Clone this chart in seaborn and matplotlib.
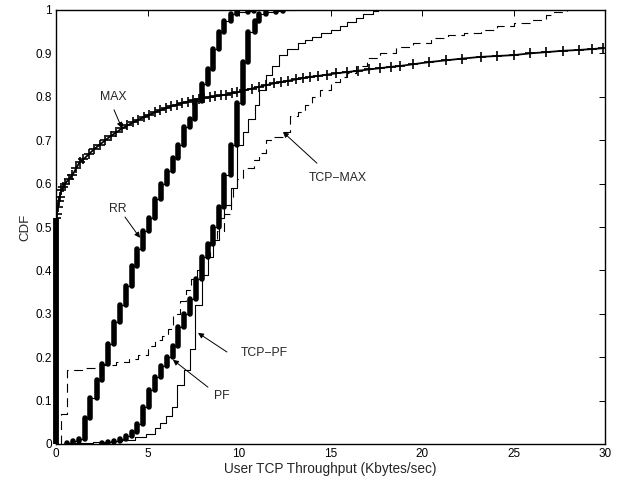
import matplotlib
matplotlib.use("Agg")
import matplotlib.pyplot as plt
import pandas as pd
import seaborn as sns

# ---------------- data ----------------
max_x = [0.0, 0.05, 0.1, 0.15, 0.2, 0.3, 0.4, 0.5, 0.7, 0.9, 1.1, 1.3, 1.5, 1.8, 2.1,
         2.4, 2.7, 3.0, 3.3, 3.6, 3.9, 4.2, 4.5, 4.8, 5.1, 5.4, 5.7, 6.0, 6.3, 6.6,
         6.9, 7.2, 7.5, 7.8, 8.1, 8.4, 8.7, 9.0, 9.3, 9.6, 9.9, 10.3, 10.7, 11.1, 11.5,
         11.9, 12.3, 12.7, 13.1, 13.5, 13.9, 14.3, 14.8, 15.3, 15.9, 16.5, 17.1, 17.7,
         18.3, 18.8, 19.5, 20.4, 21.3, 22.2, 23.2, 24.1, 25.0, 25.9, 26.8, 27.7, 28.6,
         29.3, 29.9]
max_cdf = [0.52, 0.53, 0.545, 0.56, 0.57, 0.585, 0.593, 0.60, 0.61, 0.62, 0.635, 0.65,
           0.656, 0.668, 0.68, 0.69, 0.70, 0.71, 0.718, 0.727, 0.734, 0.741, 0.747,
           0.753, 0.759, 0.764, 0.769, 0.774, 0.778, 0.782, 0.786, 0.789, 0.792, 0.795,
           0.797, 0.799, 0.801, 0.803, 0.805, 0.808, 0.81, 0.815, 0.819, 0.823, 0.827,
           0.831, 0.834, 0.837, 0.84, 0.843, 0.846, 0.848, 0.851, 0.854, 0.857, 0.86,
           0.863, 0.866, 0.869, 0.871, 0.875, 0.88, 0.884, 0.888, 0.892, 0.894, 0.896,
           0.9, 0.903, 0.906, 0.908, 0.91, 0.912]

rr_x = [0.58, 0.93, 1.26, 1.58, 1.86, 2.24, 2.52, 2.84, 3.17, 3.5, 3.83, 4.15, 4.43,
        4.75, 5.08, 5.4, 5.74, 6.07, 6.4, 6.67, 7.0, 7.3, 7.6, 7.98, 8.3, 8.6, 8.9,
        9.2, 9.56, 9.9, 10.5, 10.8]
rr_cdf = [0.003, 0.006, 0.012, 0.06, 0.105, 0.148, 0.185, 0.23, 0.28, 0.32, 0.365,
          0.41, 0.45, 0.49, 0.52, 0.565, 0.60, 0.63, 0.66, 0.69, 0.73, 0.75, 0.79,
          0.83, 0.865, 0.91, 0.95, 0.975, 0.99, 0.995, 0.998, 1.0]

pf_x = [2.5, 2.84, 3.17, 3.5, 3.83, 4.15, 4.43, 4.75, 5.08, 5.4, 5.74, 6.07, 6.4,
        6.67, 7.0, 7.3, 7.65, 8.0, 8.3, 8.6, 8.9, 9.2, 9.56, 9.9, 10.2, 10.5, 10.9,
        11.1, 11.5, 12.0, 12.4, 12.8, 13.1]
pf_cdf = [0.002, 0.004, 0.007, 0.011, 0.018, 0.028, 0.045, 0.085, 0.125, 0.155, 0.18,
          0.20, 0.225, 0.27, 0.30, 0.335, 0.38, 0.43, 0.46, 0.50, 0.545, 0.62, 0.69,
          0.785, 0.88, 0.95, 0.975, 0.99, 0.995, 0.998, 0.999, 0.9995, 1.0]

tcp_pf_x = [0.6, 2.0, 3.0, 3.6, 4.3, 4.9, 5.4, 5.7, 6.0, 6.34, 6.6, 7.0, 7.3, 7.6,
            8.0, 8.3, 8.6, 8.9, 9.2, 9.56, 9.9, 10.2, 10.5, 10.9, 11.1, 11.5, 11.8,
            12.2, 12.6, 13.2, 13.6, 14.0, 14.5, 15.0, 15.5, 15.9, 16.4, 16.8, 17.3, 17.6]
tcp_pf_cdf = [0.002, 0.004, 0.007, 0.010, 0.016, 0.023, 0.037, 0.048, 0.064, 0.085,
              0.136, 0.17, 0.22, 0.32, 0.39, 0.43, 0.47, 0.52, 0.55, 0.59, 0.69, 0.72,
              0.75, 0.78, 0.815, 0.85, 0.87, 0.896, 0.91, 0.924, 0.93, 0.938, 0.946,
              0.954, 0.963, 0.972, 0.982, 0.99, 0.998, 1.0]

tcp_max_x = [0.3, 0.6, 1.5, 2.5, 3.3, 4.0, 4.5, 5.0, 5.4, 5.8, 6.1, 6.4, 6.8, 7.1, 7.4,
             7.7, 8.0, 8.4, 8.8, 9.2, 9.56, 9.65, 9.9, 10.2, 10.8, 11.1, 11.5, 11.9,
             12.4, 12.8, 13.2, 13.6, 14.0, 14.4, 15.0, 15.5, 15.9, 16.4, 17.0, 17.7,
             18.6, 19.5, 20.5, 21.4, 22.3, 23.2, 24.1, 25.0, 25.9, 26.8, 27.2, 27.9]
tcp_max_cdf = [0.07, 0.17, 0.175, 0.183, 0.19, 0.197, 0.205, 0.225, 0.24, 0.25, 0.265,
               0.30, 0.33, 0.355, 0.38, 0.40, 0.43, 0.465, 0.49, 0.53, 0.56, 0.59, 0.61,
               0.636, 0.655, 0.67, 0.70, 0.707, 0.72, 0.755, 0.765, 0.78, 0.80, 0.815,
               0.835, 0.846, 0.855, 0.87, 0.889, 0.90, 0.915, 0.924, 0.935, 0.942,
               0.948, 0.954, 0.962, 0.97, 0.978, 0.988, 0.995, 1.0]

x_ticks = [0, 5, 10, 15, 20, 25, 30]
y_ticks = [0, 0.1, 0.2, 0.3, 0.4, 0.5, 0.6, 0.7, 0.8, 0.9, 1.0]
y_tick_labels = ["0", "0.1", "0.2", "0.3", "0.4", "0.5", "0.6", "0.7", "0.8", "0.9", "1"]
x_label = "User TCP Throughput (Kbytes/sec)"
y_label = "CDF"
curve_names = ["MAX", "RR", "TCP\u2212MAX", "TCP\u2212PF", "PF"]

# ---------------- style ----------------
sns.set_style("white")
plt.rcParams["font.family"] = ["Liberation Sans", "DejaVu Sans"]
plt.rcParams["font.size"] = 8.5

fig = plt.figure(figsize=(6.21, 4.80), dpi=100)
ax = fig.add_axes([56 / 621, 36 / 480, 549 / 621, 434 / 480])


def step_frame(xs, cdf):
    return pd.DataFrame({"x": [xs[0]] + list(xs), "y": [0.0] + list(cdf)})


def draw_step(xs, cdf, **kw):
    sns.lineplot(data=step_frame(xs, cdf), x="x", y="y", sort=False, estimator=None,
                 drawstyle="steps-post", color="black", ax=ax, **kw)


def draw_bars(xs, cdf, lw):
    prev = [0.0] + list(cdf[:-1])
    lc = ax.vlines(xs, prev, cdf, colors="black", linewidth=lw)
    lc.set_capstyle("round")
    return lc


# TCP-MAX (dashed)
draw_step(tcp_max_x, tcp_max_cdf, linewidth=0.8, linestyle=(0, (8, 5)))
# TCP-PF (thin solid)
draw_step(tcp_pf_x, tcp_pf_cdf, linewidth=0.8)
# PF (thick risers)
draw_step(pf_x, pf_cdf, linewidth=0.8)
draw_bars(pf_x, pf_cdf, 4.0)
# RR (thick risers)
draw_step(rr_x, rr_cdf, linewidth=0.8)
draw_bars(rr_x, rr_cdf, 4.0)
# MAX (+ markers)
zero_bar = ax.vlines([max_x[0]], [0.0], [max_cdf[0]], colors="black", linewidth=4.2)
zero_bar.set_clip_on(False)
sns.lineplot(x=max_x, y=max_cdf, sort=False, estimator=None, color="black",
             linewidth=1.3, marker="+", markersize=7, markeredgewidth=1.2,
             markeredgecolor="black", ax=ax)

# ---------------- annotations ----------------
text_pos = [(3.11, 0.80), (3.39, 0.541), (15.4, 0.613), (11.4, 0.21), (9.07, 0.11)]
arrow_tail = [(3.17, 0.77), (3.77, 0.523), (14.26, 0.647), (9.34, 0.212), (8.3, 0.131)]
arrow_head = [(3.6, 0.728), (4.59, 0.475), (12.4, 0.719), (7.76, 0.256), (6.39, 0.194)]
for name, tp, tail, head in zip(curve_names, text_pos, arrow_tail, arrow_head):
    ax.text(tp[0], tp[1], name, ha="center", va="center", fontsize=8.8)
    ax.annotate("", xy=head, xytext=tail,
                arrowprops=dict(arrowstyle="-|>", color="black", lw=0.7,
                                mutation_scale=8, shrinkA=0, shrinkB=0))

# ---------------- axes ----------------
ax.set_xlim(0, 30)
ax.set_ylim(0, 1)
ax.set_xticks(x_ticks)
ax.set_xticklabels([str(t) for t in x_ticks])
ax.set_yticks(y_ticks)
ax.set_yticklabels(y_tick_labels)
ax.tick_params(direction="in", length=4, width=0.7, top=True, right=True,
               labelsize=8.5, colors="black")
ax.tick_params(axis="x", pad=3)
ax.tick_params(axis="y", pad=3)
ax.set_xlabel(x_label, fontsize=9.8, labelpad=1)
ax.set_ylabel(y_label, fontsize=9.5, labelpad=3)
for sp in ax.spines.values():
    sp.set_visible(True)
    sp.set_color("black")
    sp.set_linewidth(1.0)
ax.set_facecolor("white")
fig.patch.set_facecolor("white")

fig.savefig("out.png", dpi=100, facecolor="white")
